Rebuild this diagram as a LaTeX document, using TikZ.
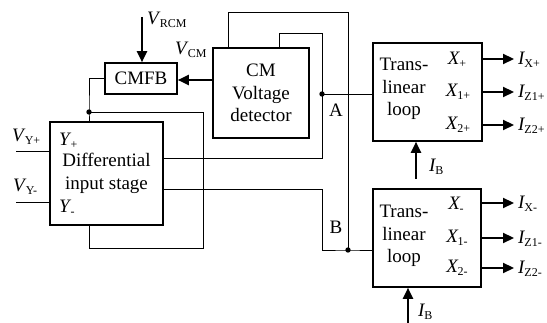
\documentclass[tikz,border=0pt]{standalone}
\usepackage{fontspec}
\setmainfont{Liberation Serif}
\usetikzlibrary{arrows.meta}
% lowered small subscript and italic symbol with subscript
\newcommand\sbs[1]{\raisebox{-3pt}{\fontsize{12}{12}\selectfont #1}}
\newcommand\vsym[2]{\textit{#1}\kern-0.8pt\sbs{#2}}

\begin{document}
\begin{tikzpicture}[x=1pt,y=-1pt,
  every node/.style={font=\fontsize{19}{22.5}\selectfont, inner sep=0pt},
  blockbox/.style={draw, line width=1.6pt, rectangle},
  wire/.style={line width=0.8pt},
  bigarrow/.style={line width=2.2pt, -{Triangle[length=11pt,width=10pt]}}]
\useasboundingbox (0,0) rectangle (547,323);

% blocks
\node[blockbox, minimum width=72pt, minimum height=31pt] (cmfb) at (141,78.5) {CMFB};
\node[blockbox, minimum width=96pt, minimum height=90pt, align=center] (det) at (261,93) {CM\\Voltage\\detector};
\node[blockbox, minimum width=113pt, minimum height=103pt, align=center] (diff) at (106.5,173.5) {Differential\\input stage};
\node[blockbox, minimum width=109pt, minimum height=98pt] (tlu) at (427.5,92) {};
\node[blockbox, minimum width=108pt, minimum height=98pt] (tll) at (427,238) {};
\node[align=center] (tlutxt) at (404,89) {Trans-\\linear\\loop};
\node[align=center] (tlltxt) at (404,236) {Trans-\\linear\\loop};

% port labels
\node[anchor=base west] (yp) at (59,146) {\vsym{Y}{+}};
\node[anchor=base west] (ym) at (59,213) {\vsym{Y}{-}};
\node[anchor=base] (xp) at (457,65) {\vsym{X}{+}};
\node[anchor=base] (x1p) at (458,97) {\vsym{X}{1+}};
\node[anchor=base] (x2p) at (458,130) {\vsym{X}{2+}};
\node[anchor=base] (xm) at (456,210) {\vsym{X}{-}};
\node[anchor=base] (x1m) at (457,243) {\vsym{X}{1-}};
\node[anchor=base] (x2m) at (457,273) {\vsym{X}{2-}};

% junctions and free ends
\coordinate (cdot) at (89,112);
\coordinate (loopc) at (203,248);
\coordinate (A) at (322,94);
\coordinate (B) at (348,250);
\coordinate (tA) at (322,33);
\coordinate (tB) at (348,12);
\coordinate (aLow) at (322,158);
\coordinate (bHi) at (322,189);
\coordinate (vrcmend) at (142,17);
\coordinate (vcmy) at (0,80);
\coordinate (vyp) at (16,151);
\coordinate (vym) at (16,202);
\coordinate (ixp) at (514,59);
\coordinate (iz1p) at (514,92);
\coordinate (iz2p) at (514,125);
\coordinate (ixm) at (514,203);
\coordinate (iz1m) at (514,238);
\coordinate (iz2m) at (514,268);
\coordinate (ibu) at (416,179);
\coordinate (ibl) at (408,323);

% wiring
\draw[wire] (cmfb.west) -| (cdot) -- (cdot |- diff.north);
\draw[wire] (cdot) -| (loopc) -| (cdot |- diff.south);
\draw[wire] ([xshift=67pt]det.north west) |- (tA) -- (aLow) -- (aLow -| diff.east);
\draw[wire] (A) -- (A -| tlu.west);
\draw[wire] ([xshift=16pt]det.north west) |- (tB) -- (B);
\draw[wire] (bHi -| diff.east) -- (bHi) |- (B) -- (B -| tll.west);
\draw[wire] (vyp) -- (vyp -| diff.west);
\draw[wire] (vym) -- (vym -| diff.west);
\fill (cdot) circle (2.7pt);
\fill (A) circle (2.7pt);
\fill (B) circle (2.7pt);

% signal arrows
\draw[bigarrow] (vrcmend) -- (vrcmend |- cmfb.north);
\draw[bigarrow] (det.west |- vcmy) -- (cmfb.east |- vcmy);
\draw[bigarrow] (ixp -| tlu.east) -- (ixp);
\draw[bigarrow] (iz1p -| tlu.east) -- (iz1p);
\draw[bigarrow] (iz2p -| tlu.east) -- (iz2p);
\draw[bigarrow] (ixm -| tll.east) -- (ixm);
\draw[bigarrow] (iz1m -| tll.east) -- (iz1m);
\draw[bigarrow] (iz2m -| tll.east) -- (iz2m);
\draw[bigarrow] (ibu) -- (ibu |- tlu.south);
\draw[bigarrow] (ibl) -- (ibl |- tll.south);

% signal names
\node[anchor=base west] (vrcm) at (147,25) {\vsym{V}{RCM}};
\node[anchor=base west] (vcm) at (175,55) {\vsym{V}{CM}};
\node[anchor=base west] (vypl) at (12,142) {\vsym{V}{Y+}};
\node[anchor=base west] (vyml) at (13,192) {\vsym{V}{Y-}};
\node[anchor=base] (labA) at (336,117) {A};
\node[anchor=base] (labB) at (336,234) {B};
\node[anchor=base west] (ixpl) at (518,65) {\vsym{I}{X+}};
\node[anchor=base west] (iz1pl) at (518,98) {\vsym{I}{Z1+}};
\node[anchor=base west] (iz2pl) at (518,131) {\vsym{I}{Z2+}};
\node[anchor=base west] (ixml) at (518,209) {\vsym{I}{X-}};
\node[anchor=base west] (iz1ml) at (518,244) {\vsym{I}{Z1-}};
\node[anchor=base west] (iz2ml) at (518,274) {\vsym{I}{Z2-}};
\node[anchor=base west] (ibul) at (429,172) {\vsym{I}{B}};
\node[anchor=base west] (ibll) at (418,317) {\vsym{I}{B}};
\end{tikzpicture}
\end{document}
